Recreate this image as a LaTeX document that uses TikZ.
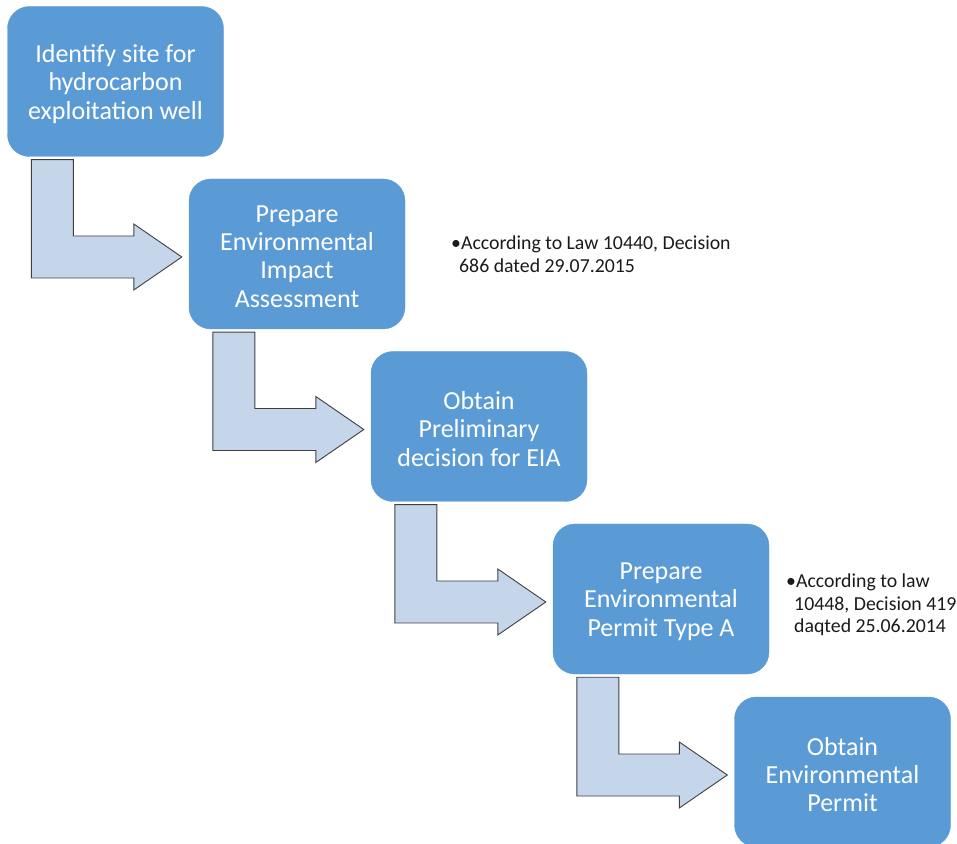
\documentclass[tikz,border=0pt]{standalone}
\usepackage{fontspec}
\setmainfont{Carlito}
\usetikzlibrary{calc}
\definecolor{boxblue}{HTML}{5B9BD5}
\definecolor{arrfill}{HTML}{C5D5EA}
\definecolor{arrline}{HTML}{404040}
\definecolor{notetext}{HTML}{1A1A1A}
\tikzset{
  stepbox/.style={fill=boxblue, draw=boxblue, rounded corners=22pt, minimum width=216pt, minimum height=150pt, inner sep=0pt},
  steptext/.style={text=white, align=center, inner sep=0pt, font=\fontsize{26pt}{28.3pt}\selectfont},
  notebox/.style={anchor=north west, align=left, inner sep=0pt, text=notetext,
    font=\fontsize{19.8pt}{22.5pt}\selectfont},
  bentfill/.style={fill=arrfill, draw=arrline, line width=0.9pt, line join=miter}
}
\newcommand\bentarr[2]{%
  \path[bentfill] let \p1=(#1.south west), \p3=($(#2.west)+(-7pt,-3pt)$) in
    (\x1+24pt,\y1-3pt) -- (\x1+66pt,\y1-3pt) -- (\x1+66pt,\y3+21pt) -- (\x3-48pt,\y3+21pt)
    -- (\x3-48pt,\y3+33pt) -- (\x3,\y3) -- (\x3-48pt,\y3-33pt) -- (\x3-48pt,\y3-21pt)
    -- (\x1+24pt,\y3-21pt) -- cycle;}
\begin{document}
\begin{tikzpicture}[x=1pt,y=1pt]
\useasboundingbox (0,0) rectangle (957,843);
\node[stepbox] (b1) at (115.5,761.5) {};
\node[stepbox] (b2) at (297,589) {};
\node[stepbox] (b3) at (479,416.5) {};
\node[stepbox] (b4) at (661,244) {};
\node[stepbox] (b5) at (842.5,71) {};
\node[steptext] (t1) at ([yshift=-2.5pt]b1.center) {Identify site for\\hydrocarbon\\exploitation well};
\node[steptext] (t2) at ([yshift=-2.5pt]b2.center) {Prepare\\Environmental\\Impact\\Assessment};
\node[steptext] (t3) at ([yshift=-2.5pt]b3.center) {Obtain\\Preliminary\\decision for EIA};
\node[steptext] (t4) at ([yshift=-2.5pt]b4.center) {Prepare\\Environmental\\Permit Type A};
\node[steptext] (t5) at ([yshift=-2.5pt]b5.center) {Obtain\\Environmental\\Permit};
\bentarr{b1}{b2}
\bentarr{b2}{b3}
\bentarr{b3}{b4}
\bentarr{b4}{b5}
\node[notebox] (n1) at (451,607) {•According to Law 10440, Decision\\\hspace*{8pt}686 dated 29.07.2015};
\node[notebox] (n2) at (786,269) {•According to law\\\hspace*{8pt}10448, Decision 419\\\hspace*{8pt}daqted 25.06.2014};
\end{tikzpicture}
\end{document}
